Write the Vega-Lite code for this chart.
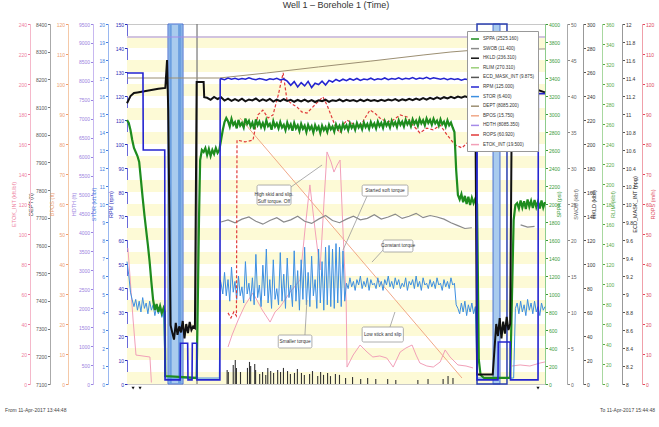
{
"$schema":"https://vega.github.io/schema/vega-lite/v6.json",
"width":418,"height":360,
"autosize":{"type":"none"},
"padding":{"left":127,"top":24,"right":114,"bottom":43},
"background":"white",
"title":{"text":"Well 1 – Borehole 1 (Time)","fontSize":9,"fontWeight":"normal","color":"#333","offset":12,"font":"Liberation Sans"},
"config":{"font":"Liberation Sans","view":{"stroke":"#c8c8c8"},
 "axis":{"labelFontSize":5,"titleFontSize":5.5,"titleFontWeight":"normal","tickSize":2.5,"labelPadding":1,"titlePadding":2,"grid":false,"labelFont":"Liberation Sans","titleFont":"Liberation Sans"}},
"data":{"format":{"parse":{"t":"date:'%H:%M:%S'","t2":"date:'%H:%M:%S'"}},"values":[
{"s":"stripe","v":0,"v2":5},{"s":"stripe","v":10,"v2":15},{"s":"stripe","v":20,"v2":25},{"s":"stripe","v":30,"v2":35},{"s":"stripe","v":40,"v2":45},{"s":"stripe","v":50,"v2":55},{"s":"stripe","v":60,"v2":65},{"s":"stripe","v":70,"v2":75},{"s":"stripe","v":80,"v2":85},{"s":"stripe","v":90,"v2":95},{"s":"stripe","v":100,"v2":105},{"s":"stripe","v":110,"v2":115},{"s":"stripe","v":120,"v2":125},{"s":"stripe","v":130,"v2":135},{"s":"stripe","v":140,"v2":145},
{"s":"band","t":"13:56:46","t2":"14:01:05"},{"s":"band","t":"15:30:05","t2":"15:32:05"},
{"s":"band2","t":"13:57:10","t2":"13:57:50"},{"s":"band2","t":"13:59:40","t2":"14:00:40"},
{"s":"slip","t":"15:25:29","t2":"15:34:05"},
{"s":"vline","t":"14:05:06"},
{"s":"hdth","t":"13:45:00","v":9157},{"s":"hdth","t":"15:45:00","v":9157},
{"s":"dept","t":"13:45:00","v":8205},{"s":"dept","t":"14:11:30","v":8205},{"s":"dept","t":"14:25:00","v":8223},{"s":"dept","t":"14:40:00","v":8245},{"s":"dept","t":"14:55:00","v":8266},{"s":"dept","t":"15:10:00","v":8288},{"s":"dept","t":"15:18:00","v":8299},{"s":"dept","t":"15:25:00","v":8306},{"s":"dept","t":"15:45:00","v":8310},
{"s":"bpos","t":"14:17:25","v":88.7},{"s":"bpos","t":"15:21:10","v":2},
{"s":"etok","g":"a","t":"13:45:15","v":90.7},{"s":"etok","g":"a","t":"13:45:50","v":72.7},{"s":"etok","g":"a","t":"13:46:45","v":42.7},{"s":"etok","g":"a","t":"13:47:35","v":19.3},{"s":"etok","g":"a","t":"13:51:35","v":18},{"s":"etok","g":"a","t":"13:52:00","v":1},
{"s":"etok","g":"b","t":"14:14:00","v":24.7},{"s":"etok","g":"b","t":"14:15:10","v":32.7},{"s":"etok","g":"b","t":"14:16:55","v":42.7},{"s":"etok","g":"b","t":"14:18:55","v":52.7},{"s":"etok","g":"b","t":"14:21:10","v":60.7},{"s":"etok","g":"b","t":"14:23:50","v":49.3},{"s":"etok","g":"b","t":"14:26:05","v":41.3},{"s":"etok","g":"b","t":"14:27:30","v":48},{"s":"etok","g":"b","t":"14:28:55","v":51.3},{"s":"etok","g":"b","t":"14:31:50","v":61.3},{"s":"etok","g":"b","t":"14:34:40","v":69.3},{"s":"etok","g":"b","t":"14:36:05","v":102.7},{"s":"etok","g":"b","t":"14:37:30","v":132.7},{"s":"etok","g":"b","t":"14:39:00","v":102.7},{"s":"etok","g":"b","t":"14:40:25","v":76},{"s":"etok","g":"b","t":"14:41:35","v":122.7},{"s":"etok","g":"b","t":"14:42:25","v":154.7},{"s":"etok","g":"b","t":"14:43:35","v":148},{"s":"etok","g":"b","t":"14:44:25","v":141.3},{"s":"etok","g":"b","t":"14:45:20","v":146},{"s":"etok","g":"b","t":"14:46:10","v":149.3},{"s":"etok","g":"b","t":"14:47:00","v":102.7},{"s":"etok","g":"b","t":"14:47:55","v":56},{"s":"etok","g":"b","t":"14:48:10","v":11.3},{"s":"etok","g":"b","t":"14:49:55","v":19.3},{"s":"etok","g":"b","t":"14:51:55","v":26},{"s":"etok","g":"b","t":"14:53:55","v":21.3},{"s":"etok","g":"b","t":"14:55:35","v":18},{"s":"etok","g":"b","t":"14:57:35","v":18.7},{"s":"etok","g":"b","t":"14:59:35","v":17.3},{"s":"etok","g":"b","t":"15:01:25","v":11.3},{"s":"etok","g":"b","t":"15:03:25","v":21.3},{"s":"etok","g":"b","t":"15:05:05","v":24},{"s":"etok","g":"b","t":"15:06:50","v":26},{"s":"etok","g":"b","t":"15:08:00","v":19.3},{"s":"etok","g":"b","t":"15:09:05","v":14},{"s":"etok","g":"b","t":"15:11:05","v":12},{"s":"etok","g":"b","t":"15:12:55","v":11.3},{"s":"etok","g":"b","t":"15:14:55","v":14.7},{"s":"etok","g":"b","t":"15:16:20","v":22.7},{"s":"etok","g":"b","t":"15:17:45","v":18},{"s":"etok","g":"b","t":"15:20:00","v":12.7},{"s":"etok","g":"b","t":"15:22:20","v":12},{"s":"etok","g":"b","t":"15:24:20","v":10.7},
{"s":"etok","g":"c","t":"15:35:30","v":12},{"s":"etok","g":"c","t":"15:37:50","v":12.7},{"s":"etok","g":"c","t":"15:40:40","v":12},{"s":"etok","g":"c","t":"15:43:35","v":14},{"s":"etok","g":"c","t":"15:45:00","v":14.7},
{"s":"swob","g":"a","t":"14:12:00","v":22.5},{"s":"swob","g":"a","t":"14:14:00","v":22.8},{"s":"swob","g":"a","t":"14:16:00","v":22.4},{"s":"swob","g":"a","t":"14:18:00","v":22.9},{"s":"swob","g":"a","t":"14:20:00","v":23.2},{"s":"swob","g":"a","t":"14:22:00","v":22.6},{"s":"swob","g":"a","t":"14:24:00","v":22.2},{"s":"swob","g":"a","t":"14:26:00","v":22.7},{"s":"swob","g":"a","t":"14:28:00","v":23.1},{"s":"swob","g":"a","t":"14:30:00","v":22.5},{"s":"swob","g":"a","t":"14:32:00","v":22.8},{"s":"swob","g":"a","t":"14:34:00","v":23.3},{"s":"swob","g":"a","t":"14:36:00","v":22.6},{"s":"swob","g":"a","t":"14:38:00","v":22.3},{"s":"swob","g":"a","t":"14:40:00","v":22.9},{"s":"swob","g":"a","t":"14:42:00","v":23.4},{"s":"swob","g":"a","t":"14:44:00","v":22.7},{"s":"swob","g":"a","t":"14:46:00","v":22.4},{"s":"swob","g":"a","t":"14:48:00","v":22.9},{"s":"swob","g":"a","t":"14:50:00","v":23.3},{"s":"swob","g":"a","t":"14:52:00","v":22.8},{"s":"swob","g":"a","t":"14:54:00","v":23.0},{"s":"swob","g":"a","t":"14:56:00","v":23.5},{"s":"swob","g":"a","t":"14:58:00","v":22.9},{"s":"swob","g":"a","t":"15:00:00","v":23.2},{"s":"swob","g":"a","t":"15:02:00","v":23.6},{"s":"swob","g":"a","t":"15:04:00","v":23.0},{"s":"swob","g":"a","t":"15:06:00","v":23.3},{"s":"swob","g":"a","t":"15:08:00","v":23.7},{"s":"swob","g":"a","t":"15:10:00","v":23.1},{"s":"swob","g":"a","t":"15:12:00","v":23.4},{"s":"swob","g":"a","t":"15:14:00","v":23.2},{"s":"swob","g":"a","t":"15:16:00","v":22.9},{"s":"swob","g":"a","t":"15:18:00","v":22.4},{"s":"swob","g":"a","t":"15:20:00","v":22.0},{"s":"swob","g":"a","t":"15:22:00","v":21.6},{"s":"swob","g":"a","t":"15:24:00","v":21.7},
{"s":"swob","g":"b","t":"15:38:00","v":22.1},{"s":"swob","g":"b","t":"15:40:00","v":21.8},{"s":"swob","g":"b","t":"15:42:00","v":21.9},
{"s":"trq","t":"13:45:00","v":6.8},{"s":"trq","t":"13:45:30","v":6.06},{"s":"trq","t":"13:46:00","v":5.1},{"s":"trq","t":"13:46:30","v":4.67},
{"s":"trq","t":"13:47:00","v":4.3},{"s":"trq","t":"13:47:30","v":4.7},{"s":"trq","t":"13:48:00","v":4.1},{"s":"trq","t":"13:48:30","v":4.6},{"s":"trq","t":"13:49:00","v":4.0},{"s":"trq","t":"13:49:30","v":4.8},{"s":"trq","t":"13:50:00","v":4.2},{"s":"trq","t":"13:50:30","v":4.5},{"s":"trq","t":"13:51:00","v":3.9},{"s":"trq","t":"13:51:30","v":4.6},{"s":"trq","t":"13:52:00","v":4.1},{"s":"trq","t":"13:52:30","v":4.4},{"s":"trq","t":"13:53:00","v":3.8},{"s":"trq","t":"13:53:30","v":4.3},{"s":"trq","t":"13:54:00","v":3.9},{"s":"trq","t":"13:54:30","v":4.2},{"s":"trq","t":"13:55:00","v":3.7},{"s":"trq","t":"13:55:30","v":4.0},
{"s":"trq","t":"13:56:00","v":0.33},{"s":"trq","t":"14:11:30","v":0.33},{"s":"trq","t":"14:11:45","v":5.78},
{"s":"trq","t":"14:12:00","v":5.6},{"s":"trq","t":"14:12:30","v":5.0},{"s":"trq","t":"14:13:00","v":6.2},{"s":"trq","t":"14:13:30","v":4.9},{"s":"trq","t":"14:14:00","v":5.8},{"s":"trq","t":"14:14:30","v":4.6},{"s":"trq","t":"14:15:00","v":6.5},{"s":"trq","t":"14:15:30","v":5.1},{"s":"trq","t":"14:16:00","v":5.7},{"s":"trq","t":"14:16:30","v":4.7},
{"s":"trq","t":"14:17:00","v":6.0},{"s":"trq","t":"14:17:30","v":4.9},{"s":"trq","t":"14:18:00","v":5.4},{"s":"trq","t":"14:18:30","v":4.5},{"s":"trq","t":"14:19:00","v":6.8},{"s":"trq","t":"14:19:30","v":5.0},{"s":"trq","t":"14:20:00","v":5.6},{"s":"trq","t":"14:20:30","v":4.6},{"s":"trq","t":"14:21:00","v":5.9},{"s":"trq","t":"14:21:30","v":4.4},
{"s":"trq","t":"14:22:00","v":7.2},{"s":"trq","t":"14:22:30","v":4.8},{"s":"trq","t":"14:23:00","v":5.5},{"s":"trq","t":"14:23:30","v":4.3},{"s":"trq","t":"14:24:00","v":6.6},{"s":"trq","t":"14:24:30","v":4.9},{"s":"trq","t":"14:25:00","v":7.5},{"s":"trq","t":"14:25:30","v":4.5},{"s":"trq","t":"14:26:00","v":5.8},{"s":"trq","t":"14:26:30","v":4.2},
{"s":"trq","t":"14:27:00","v":6.9},{"s":"trq","t":"14:27:30","v":4.7},{"s":"trq","t":"14:28:00","v":5.3},{"s":"trq","t":"14:28:30","v":4.4},{"s":"trq","t":"14:29:00","v":7.3},{"s":"trq","t":"14:29:30","v":4.6},{"s":"trq","t":"14:30:00","v":6.1},{"s":"trq","t":"14:30:30","v":4.2},{"s":"trq","t":"14:31:00","v":7.0},{"s":"trq","t":"14:31:30","v":4.8},
{"s":"trq","t":"14:32:00","v":5.5},{"s":"trq","t":"14:32:30","v":4.3},{"s":"trq","t":"14:33:00","v":7.4},{"s":"trq","t":"14:33:30","v":4.6},{"s":"trq","t":"14:34:00","v":6.3},{"s":"trq","t":"14:34:30","v":4.1},{"s":"trq","t":"14:35:00","v":6.9},{"s":"trq","t":"14:35:30","v":4.7},{"s":"trq","t":"14:36:00","v":7.6},{"s":"trq","t":"14:36:30","v":4.4},
{"s":"trq","t":"14:37:00","v":6.2},{"s":"trq","t":"14:37:30","v":4.3},{"s":"trq","t":"14:38:00","v":7.1},{"s":"trq","t":"14:38:30","v":4.9},{"s":"trq","t":"14:39:00","v":5.8},{"s":"trq","t":"14:39:30","v":4.2},{"s":"trq","t":"14:40:00","v":7.5},{"s":"trq","t":"14:40:30","v":4.5},{"s":"trq","t":"14:41:00","v":6.8},{"s":"trq","t":"14:41:30","v":4.1},
{"s":"trq","t":"14:42:00","v":7.6},{"s":"trq","t":"14:42:30","v":4.4},{"s":"trq","t":"14:43:00","v":7.7},{"s":"trq","t":"14:43:30","v":4.3},{"s":"trq","t":"14:44:00","v":7.5},{"s":"trq","t":"14:44:30","v":4.2},{"s":"trq","t":"14:45:00","v":7.8},{"s":"trq","t":"14:45:30","v":4.5},{"s":"trq","t":"14:46:00","v":7.6},{"s":"trq","t":"14:46:30","v":4.3},{"s":"trq","t":"14:47:00","v":7.4},{"s":"trq","t":"14:47:30","v":4.6},
{"s":"trq","t":"14:48:00","v":5.6},{"s":"trq","t":"14:48:30","v":5.3},{"s":"trq","t":"14:49:00","v":5.9},{"s":"trq","t":"14:49:30","v":5.4},{"s":"trq","t":"14:50:00","v":5.7},{"s":"trq","t":"14:50:30","v":5.2},{"s":"trq","t":"14:51:00","v":5.8},{"s":"trq","t":"14:51:30","v":5.5},{"s":"trq","t":"14:52:00","v":6.0},{"s":"trq","t":"14:52:30","v":5.3},
{"s":"trq","t":"14:53:00","v":5.7},{"s":"trq","t":"14:53:30","v":5.4},{"s":"trq","t":"14:54:00","v":5.9},{"s":"trq","t":"14:54:30","v":5.2},{"s":"trq","t":"14:55:00","v":5.8},{"s":"trq","t":"14:55:30","v":5.5},{"s":"trq","t":"14:56:00","v":5.6},{"s":"trq","t":"14:56:30","v":5.3},{"s":"trq","t":"14:57:00","v":5.9},{"s":"trq","t":"14:57:30","v":5.4},
{"s":"trq","t":"14:58:00","v":5.7},{"s":"trq","t":"14:58:30","v":5.2},{"s":"trq","t":"14:59:00","v":5.8},{"s":"trq","t":"14:59:30","v":5.5},{"s":"trq","t":"15:00:00","v":6.0},{"s":"trq","t":"15:00:30","v":5.4},{"s":"trq","t":"15:01:00","v":5.7},{"s":"trq","t":"15:01:30","v":5.3},{"s":"trq","t":"15:02:00","v":5.9},{"s":"trq","t":"15:02:30","v":5.5},
{"s":"trq","t":"15:03:00","v":5.8},{"s":"trq","t":"15:03:30","v":5.3},{"s":"trq","t":"15:04:00","v":5.6},{"s":"trq","t":"15:04:30","v":5.4},{"s":"trq","t":"15:05:00","v":5.9},{"s":"trq","t":"15:05:30","v":5.2},{"s":"trq","t":"15:06:00","v":5.7},{"s":"trq","t":"15:06:30","v":5.5},{"s":"trq","t":"15:07:00","v":5.8},{"s":"trq","t":"15:07:30","v":5.3},
{"s":"trq","t":"15:08:00","v":6.0},{"s":"trq","t":"15:08:30","v":5.4},{"s":"trq","t":"15:09:00","v":5.7},{"s":"trq","t":"15:09:30","v":5.2},{"s":"trq","t":"15:10:00","v":5.9},{"s":"trq","t":"15:10:30","v":5.5},{"s":"trq","t":"15:11:00","v":5.6},{"s":"trq","t":"15:11:30","v":5.3},{"s":"trq","t":"15:12:00","v":5.8},{"s":"trq","t":"15:12:30","v":5.4},
{"s":"trq","t":"15:13:00","v":5.7},{"s":"trq","t":"15:13:30","v":5.3},{"s":"trq","t":"15:14:00","v":5.9},{"s":"trq","t":"15:14:30","v":5.5},{"s":"trq","t":"15:15:00","v":5.6},{"s":"trq","t":"15:15:30","v":5.2},{"s":"trq","t":"15:16:00","v":5.8},{"s":"trq","t":"15:16:30","v":5.4},{"s":"trq","t":"15:17:00","v":5.7},{"s":"trq","t":"15:17:30","v":5.3},
{"s":"trq","t":"15:18:00","v":5.9},{"s":"trq","t":"15:18:30","v":5.5},{"s":"trq","t":"15:19:00","v":5.6},
{"s":"trq","t":"15:19:30","v":4.4},{"s":"trq","t":"15:20:00","v":4.2},{"s":"trq","t":"15:20:30","v":3.9},{"s":"trq","t":"15:21:00","v":4.5},{"s":"trq","t":"15:21:30","v":4.0},{"s":"trq","t":"15:22:00","v":4.6},{"s":"trq","t":"15:22:30","v":3.8},{"s":"trq","t":"15:23:00","v":4.4},{"s":"trq","t":"15:23:30","v":4.0},{"s":"trq","t":"15:24:00","v":4.5},{"s":"trq","t":"15:24:30","v":3.9},{"s":"trq","t":"15:25:00","v":4.3},
{"s":"trq","t":"15:25:30","v":0.33},{"s":"trq","t":"15:36:00","v":0.33},{"s":"trq","t":"15:36:30","v":4.2},
{"s":"trq","t":"15:37:00","v":4.5},{"s":"trq","t":"15:37:30","v":3.9},{"s":"trq","t":"15:38:00","v":4.6},{"s":"trq","t":"15:38:30","v":4.0},{"s":"trq","t":"15:39:00","v":4.4},{"s":"trq","t":"15:39:30","v":3.8},{"s":"trq","t":"15:40:00","v":4.7},{"s":"trq","t":"15:40:30","v":4.1},{"s":"trq","t":"15:41:00","v":4.5},{"s":"trq","t":"15:41:30","v":3.9},{"s":"trq","t":"15:42:00","v":4.6},{"s":"trq","t":"15:42:30","v":4.0},{"s":"trq","t":"15:43:00","v":4.3},{"s":"trq","t":"15:43:30","v":3.8},{"s":"trq","t":"15:44:00","v":4.5},{"s":"trq","t":"15:44:30","v":4.1},{"s":"trq","t":"15:45:00","v":4.3},
{"s":"rops","t":"14:14:00","v":23.7},{"s":"rops","t":"14:14:50","v":22},{"s":"rops","t":"14:15:40","v":24},{"s":"rops","t":"14:16:25","v":22.7},{"s":"rops","t":"14:16:35","v":81.3},{"s":"rops","t":"14:18:55","v":80.7},{"s":"rops","t":"14:21:10","v":81.3},{"s":"rops","t":"14:22:35","v":89.7},{"s":"rops","t":"14:24:00","v":91.3},{"s":"rops","t":"14:25:30","v":88.7},{"s":"rops","t":"14:26:55","v":89.7},{"s":"rops","t":"14:28:25","v":96.3},{"s":"rops","t":"14:29:50","v":103.7},{"s":"rops","t":"14:30:55","v":94.7},{"s":"rops","t":"14:32:25","v":93.3},{"s":"rops","t":"14:33:50","v":92.3},{"s":"rops","t":"14:35:10","v":90.7},{"s":"rops","t":"14:36:40","v":90.3},{"s":"rops","t":"14:38:05","v":92},{"s":"rops","t":"14:39:30","v":93.7},{"s":"rops","t":"14:41:15","v":95.7},{"s":"rops","t":"14:42:25","v":93},{"s":"rops","t":"14:43:20","v":90.3},{"s":"rops","t":"14:44:40","v":86.3},{"s":"rops","t":"14:46:10","v":83.7},{"s":"rops","t":"14:47:00","v":86.3},{"s":"rops","t":"14:48:10","v":88},{"s":"rops","t":"14:49:55","v":86.7},{"s":"rops","t":"14:51:55","v":85.7},{"s":"rops","t":"14:53:20","v":88.7},{"s":"rops","t":"14:54:45","v":91.3},{"s":"rops","t":"14:56:10","v":90.3},{"s":"rops","t":"14:57:35","v":88.7},{"s":"rops","t":"14:59:35","v":87.3},{"s":"rops","t":"15:01:25","v":88},{"s":"rops","t":"15:03:25","v":89.7},{"s":"rops","t":"15:05:25","v":89},{"s":"rops","t":"15:07:05","v":86.3},{"s":"rops","t":"15:09:05","v":83.7},{"s":"rops","t":"15:11:05","v":85.3},{"s":"rops","t":"15:12:55","v":84.7},{"s":"rops","t":"15:14:55","v":86.3},{"s":"rops","t":"15:16:55","v":83},{"s":"rops","t":"15:19:10","v":79.7},{"s":"rops","t":"15:21:10","v":78.7},{"s":"rops","t":"15:23:30","v":81.3},
{"s":"sppa","t":"13:45:00","v":2933},{"s":"sppa","t":"13:45:30","v":2900},{"s":"sppa","t":"13:46:00","v":2822},{"s":"sppa","t":"13:46:30","v":2711},{"s":"sppa","t":"13:47:00","v":2622},{"s":"sppa","t":"13:47:30","v":2578},{"s":"sppa","t":"13:48:00","v":2533},{"s":"sppa","t":"13:48:30","v":2467},{"s":"sppa","t":"13:49:00","v":2267},{"s":"sppa","t":"13:49:30","v":2067},{"s":"sppa","t":"13:50:00","v":1878},{"s":"sppa","t":"13:50:30","v":1711},{"s":"sppa","t":"13:51:00","v":1544},{"s":"sppa","t":"13:51:30","v":1356},{"s":"sppa","t":"13:52:00","v":1133},{"s":"sppa","t":"13:52:30","v":933},{"s":"sppa","t":"13:53:00","v":822},{"s":"sppa","t":"13:53:30","v":889},{"s":"sppa","t":"13:54:00","v":800},{"s":"sppa","t":"13:54:30","v":867},{"s":"sppa","t":"13:55:00","v":789},{"s":"sppa","t":"13:55:30","v":844},{"s":"sppa","t":"13:55:50","v":800},{"s":"sppa","t":"13:56:00","v":89},{"s":"sppa","t":"14:05:00","v":67},{"s":"sppa","t":"14:05:20","v":933},{"s":"sppa","t":"14:05:40","v":1822},{"s":"sppa","t":"14:06:00","v":2489},{"s":"sppa","t":"14:06:30","v":2600},
{"s":"sppa","t":"14:07:00","v":2578},{"s":"sppa","t":"14:07:30","v":2622},{"s":"sppa","t":"14:08:00","v":2544},{"s":"sppa","t":"14:08:30","v":2611},{"s":"sppa","t":"14:09:00","v":2533},{"s":"sppa","t":"14:09:30","v":2600},{"s":"sppa","t":"14:10:00","v":2556},{"s":"sppa","t":"14:10:30","v":2622},{"s":"sppa","t":"14:11:00","v":2567},{"s":"sppa","t":"14:11:30","v":2600},{"s":"sppa","t":"14:12:00","v":2711},{"s":"sppa","t":"14:12:30","v":2822},{"s":"sppa","t":"14:13:00","v":2911},{"s":"sppa","t":"14:13:30","v":2955},
{"s":"sppa","t":"14:14:00","v":2920},{"s":"sppa","t":"14:14:30","v":2860},{"s":"sppa","t":"14:15:00","v":2945},{"s":"sppa","t":"14:15:30","v":2880},{"s":"sppa","t":"14:16:00","v":2910},{"s":"sppa","t":"14:16:30","v":2840},{"s":"sppa","t":"14:17:00","v":2935},{"s":"sppa","t":"14:17:30","v":2870},{"s":"sppa","t":"14:18:00","v":2900},{"s":"sppa","t":"14:18:30","v":2850},
{"s":"sppa","t":"14:19:00","v":2950},{"s":"sppa","t":"14:19:30","v":2890},{"s":"sppa","t":"14:20:00","v":2925},{"s":"sppa","t":"14:20:30","v":2860},{"s":"sppa","t":"14:21:00","v":2905},{"s":"sppa","t":"14:21:30","v":2830},{"s":"sppa","t":"14:22:00","v":2940},{"s":"sppa","t":"14:22:30","v":2875},{"s":"sppa","t":"14:23:00","v":2915},{"s":"sppa","t":"14:23:30","v":2855},
{"s":"sppa","t":"14:24:00","v":2900},{"s":"sppa","t":"14:24:30","v":2845},{"s":"sppa","t":"14:25:00","v":2930},{"s":"sppa","t":"14:25:30","v":2865},{"s":"sppa","t":"14:26:00","v":2890},{"s":"sppa","t":"14:26:30","v":2825},{"s":"sppa","t":"14:27:00","v":2920},{"s":"sppa","t":"14:27:30","v":2860},{"s":"sppa","t":"14:28:00","v":2895},{"s":"sppa","t":"14:28:30","v":2840},
{"s":"sppa","t":"14:29:00","v":2910},{"s":"sppa","t":"14:29:30","v":2850},{"s":"sppa","t":"14:30:00","v":2880},{"s":"sppa","t":"14:30:30","v":2820},{"s":"sppa","t":"14:31:00","v":2905},{"s":"sppa","t":"14:31:30","v":2845},{"s":"sppa","t":"14:32:00","v":2885},{"s":"sppa","t":"14:32:30","v":2815},{"s":"sppa","t":"14:33:00","v":2900},{"s":"sppa","t":"14:33:30","v":2840},
{"s":"sppa","t":"14:34:00","v":2875},{"s":"sppa","t":"14:34:30","v":2810},{"s":"sppa","t":"14:35:00","v":2890},{"s":"sppa","t":"14:35:30","v":2835},{"s":"sppa","t":"14:36:00","v":2870},{"s":"sppa","t":"14:36:30","v":2800},{"s":"sppa","t":"14:37:00","v":2880},{"s":"sppa","t":"14:37:30","v":2830},{"s":"sppa","t":"14:38:00","v":2865},{"s":"sppa","t":"14:38:30","v":2795},
{"s":"sppa","t":"14:39:00","v":2875},{"s":"sppa","t":"14:39:30","v":2825},{"s":"sppa","t":"14:40:00","v":2860},{"s":"sppa","t":"14:40:30","v":2790},{"s":"sppa","t":"14:41:00","v":2870},{"s":"sppa","t":"14:41:30","v":2820},{"s":"sppa","t":"14:42:00","v":2855},{"s":"sppa","t":"14:42:30","v":2800},{"s":"sppa","t":"14:43:00","v":2880},{"s":"sppa","t":"14:43:30","v":2830},
{"s":"sppa","t":"14:44:00","v":2860},{"s":"sppa","t":"14:44:30","v":2805},{"s":"sppa","t":"14:45:00","v":2885},{"s":"sppa","t":"14:45:30","v":2835},{"s":"sppa","t":"14:46:00","v":2870},{"s":"sppa","t":"14:46:30","v":2815},{"s":"sppa","t":"14:47:00","v":2890},{"s":"sppa","t":"14:47:30","v":2840},{"s":"sppa","t":"14:48:00","v":2875},{"s":"sppa","t":"14:48:30","v":2820},
{"s":"sppa","t":"14:49:00","v":2895},{"s":"sppa","t":"14:49:30","v":2845},{"s":"sppa","t":"14:50:00","v":2880},{"s":"sppa","t":"14:50:30","v":2825},{"s":"sppa","t":"14:51:00","v":2900},{"s":"sppa","t":"14:51:30","v":2850},{"s":"sppa","t":"14:52:00","v":2885},{"s":"sppa","t":"14:52:30","v":2830},{"s":"sppa","t":"14:53:00","v":2905},{"s":"sppa","t":"14:53:30","v":2855},
{"s":"sppa","t":"14:54:00","v":2890},{"s":"sppa","t":"14:54:30","v":2835},{"s":"sppa","t":"14:55:00","v":2910},{"s":"sppa","t":"14:55:30","v":2860},{"s":"sppa","t":"14:56:00","v":2895},{"s":"sppa","t":"14:56:30","v":2840},{"s":"sppa","t":"14:57:00","v":2915},{"s":"sppa","t":"14:57:30","v":2865},{"s":"sppa","t":"14:58:00","v":2900},{"s":"sppa","t":"14:58:30","v":2845},
{"s":"sppa","t":"14:59:00","v":2920},{"s":"sppa","t":"14:59:30","v":2870},{"s":"sppa","t":"15:00:00","v":2905},{"s":"sppa","t":"15:00:30","v":2850},{"s":"sppa","t":"15:01:00","v":2925},{"s":"sppa","t":"15:01:30","v":2875},{"s":"sppa","t":"15:02:00","v":2910},{"s":"sppa","t":"15:02:30","v":2855},{"s":"sppa","t":"15:03:00","v":2930},{"s":"sppa","t":"15:03:30","v":2880},
{"s":"sppa","t":"15:04:00","v":2915},{"s":"sppa","t":"15:04:30","v":2860},{"s":"sppa","t":"15:05:00","v":2935},{"s":"sppa","t":"15:05:30","v":2885},{"s":"sppa","t":"15:06:00","v":2920},{"s":"sppa","t":"15:06:30","v":2865},{"s":"sppa","t":"15:07:00","v":2940},{"s":"sppa","t":"15:07:30","v":2890},{"s":"sppa","t":"15:08:00","v":2925},{"s":"sppa","t":"15:08:30","v":2870},
{"s":"sppa","t":"15:09:00","v":2945},{"s":"sppa","t":"15:09:30","v":2895},{"s":"sppa","t":"15:10:00","v":2930},{"s":"sppa","t":"15:10:30","v":2875},{"s":"sppa","t":"15:11:00","v":2950},{"s":"sppa","t":"15:11:30","v":2900},{"s":"sppa","t":"15:12:00","v":2935},{"s":"sppa","t":"15:12:30","v":2880},{"s":"sppa","t":"15:13:00","v":2945},{"s":"sppa","t":"15:13:30","v":2895},
{"s":"sppa","t":"15:14:00","v":2925},{"s":"sppa","t":"15:14:30","v":2870},{"s":"sppa","t":"15:15:00","v":2940},{"s":"sppa","t":"15:15:30","v":2885},{"s":"sppa","t":"15:16:00","v":2915},{"s":"sppa","t":"15:16:30","v":2860},{"s":"sppa","t":"15:17:00","v":2930},{"s":"sppa","t":"15:17:30","v":2875},{"s":"sppa","t":"15:18:00","v":2905},{"s":"sppa","t":"15:18:30","v":2850},
{"s":"sppa","t":"15:19:00","v":2800},{"s":"sppa","t":"15:19:30","v":2378},{"s":"sppa","t":"15:20:00","v":2100},{"s":"sppa","t":"15:20:30","v":2050},{"s":"sppa","t":"15:21:00","v":2110},{"s":"sppa","t":"15:21:30","v":2020},{"s":"sppa","t":"15:22:00","v":2090},{"s":"sppa","t":"15:22:30","v":2000},{"s":"sppa","t":"15:23:00","v":2080},{"s":"sppa","t":"15:23:30","v":1990},{"s":"sppa","t":"15:24:00","v":2070},{"s":"sppa","t":"15:24:30","v":2010},{"s":"sppa","t":"15:25:00","v":2060},{"s":"sppa","t":"15:25:30","v":2000},{"s":"sppa","t":"15:26:00","v":267},{"s":"sppa","t":"15:26:30","v":100},{"s":"sppa","t":"15:27:30","v":67},{"s":"sppa","t":"15:35:00","v":67},{"s":"sppa","t":"15:35:30","v":933},{"s":"sppa","t":"15:36:00","v":1822},{"s":"sppa","t":"15:36:30","v":1989},
{"s":"sppa","t":"15:37:00","v":2010},{"s":"sppa","t":"15:37:30","v":1950},{"s":"sppa","t":"15:38:00","v":2040},{"s":"sppa","t":"15:38:30","v":1960},{"s":"sppa","t":"15:39:00","v":2030},{"s":"sppa","t":"15:39:30","v":1945},{"s":"sppa","t":"15:40:00","v":2050},{"s":"sppa","t":"15:40:30","v":1970},{"s":"sppa","t":"15:41:00","v":2035},{"s":"sppa","t":"15:41:30","v":1955},{"s":"sppa","t":"15:42:00","v":2045},{"s":"sppa","t":"15:42:30","v":1965},{"s":"sppa","t":"15:43:00","v":2025},{"s":"sppa","t":"15:43:30","v":1950},{"s":"sppa","t":"15:44:00","v":2040},{"s":"sppa","t":"15:44:30","v":1960},{"s":"sppa","t":"15:45:00","v":2020},
{"s":"hkld","t":"13:45:00","v":234},{"s":"hkld","t":"13:46:00","v":240},{"s":"hkld","t":"13:47:00","v":242.5},{"s":"hkld","t":"13:48:00","v":243},{"s":"hkld","t":"13:50:00","v":244},{"s":"hkld","t":"13:52:00","v":245},{"s":"hkld","t":"13:54:00","v":246},{"s":"hkld","t":"13:56:00","v":246.7},{"s":"hkld","t":"13:56:30","v":270},{"s":"hkld","t":"13:56:50","v":228},{"s":"hkld","t":"13:57:30","v":49},{"s":"hkld","t":"13:58:00","v":43},{"s":"hkld","t":"13:58:30","v":37},{"s":"hkld","t":"13:59:00","v":51},{"s":"hkld","t":"13:59:30","v":41},{"s":"hkld","t":"14:00:00","v":48},{"s":"hkld","t":"14:00:30","v":43},{"s":"hkld","t":"14:01:00","v":52.5},{"s":"hkld","t":"14:01:30","v":38},{"s":"hkld","t":"14:02:00","v":50},{"s":"hkld","t":"14:02:30","v":42.5},{"s":"hkld","t":"14:03:00","v":51.7},{"s":"hkld","t":"14:03:30","v":45},{"s":"hkld","t":"14:04:00","v":48},{"s":"hkld","t":"14:04:30","v":46.7},{"s":"hkld","t":"14:05:00","v":251.7},{"s":"hkld","t":"14:07:00","v":251.7},{"s":"hkld","t":"14:07:10","v":239},
{"s":"hkld","t":"14:08:00","v":238.5},{"s":"hkld","t":"14:09:00","v":236.8},{"s":"hkld","t":"14:10:00","v":239.2},{"s":"hkld","t":"14:11:00","v":237.5},{"s":"hkld","t":"14:12:00","v":238.9},{"s":"hkld","t":"14:13:00","v":236.2},{"s":"hkld","t":"14:14:00","v":237.8},{"s":"hkld","t":"14:15:00","v":235.9},{"s":"hkld","t":"14:16:00","v":237.4},{"s":"hkld","t":"14:17:00","v":236.0},{"s":"hkld","t":"14:18:00","v":237.7},{"s":"hkld","t":"14:19:00","v":235.6},{"s":"hkld","t":"14:20:00","v":237.1},{"s":"hkld","t":"14:21:00","v":236.3},{"s":"hkld","t":"14:22:00","v":237.9},{"s":"hkld","t":"14:23:00","v":235.8},{"s":"hkld","t":"14:24:00","v":237.2},{"s":"hkld","t":"14:25:00","v":236.0},{"s":"hkld","t":"14:26:00","v":237.6},{"s":"hkld","t":"14:27:00","v":235.4},{"s":"hkld","t":"14:28:00","v":236.9},{"s":"hkld","t":"14:29:00","v":235.7},{"s":"hkld","t":"14:30:00","v":237.3},{"s":"hkld","t":"14:31:00","v":235.9},{"s":"hkld","t":"14:32:00","v":236.8},{"s":"hkld","t":"14:33:00","v":235.2},{"s":"hkld","t":"14:34:00","v":236.7},{"s":"hkld","t":"14:35:00","v":235.5},{"s":"hkld","t":"14:36:00","v":237.0},{"s":"hkld","t":"14:37:00","v":235.3},{"s":"hkld","t":"14:38:00","v":236.6},{"s":"hkld","t":"14:39:00","v":235.0},{"s":"hkld","t":"14:40:00","v":236.4},{"s":"hkld","t":"14:41:00","v":235.6},{"s":"hkld","t":"14:42:00","v":236.9},{"s":"hkld","t":"14:43:00","v":235.2},{"s":"hkld","t":"14:44:00","v":236.5},{"s":"hkld","t":"14:45:00","v":235.8},{"s":"hkld","t":"14:46:00","v":237.1},{"s":"hkld","t":"14:47:00","v":235.5},{"s":"hkld","t":"14:48:00","v":236.8},{"s":"hkld","t":"14:49:00","v":235.9},{"s":"hkld","t":"14:50:00","v":236.6},{"s":"hkld","t":"14:51:00","v":235.4},{"s":"hkld","t":"14:52:00","v":236.9},{"s":"hkld","t":"14:53:00","v":235.7},{"s":"hkld","t":"14:54:00","v":237.0},{"s":"hkld","t":"14:55:00","v":235.9},{"s":"hkld","t":"14:56:00","v":236.7},{"s":"hkld","t":"14:57:00","v":235.6},{"s":"hkld","t":"14:58:00","v":236.8},{"s":"hkld","t":"14:59:00","v":235.9},{"s":"hkld","t":"15:00:00","v":237.1},{"s":"hkld","t":"15:01:00","v":236.2},{"s":"hkld","t":"15:02:00","v":237.4},{"s":"hkld","t":"15:03:00","v":236.0},{"s":"hkld","t":"15:04:00","v":237.2},{"s":"hkld","t":"15:05:00","v":236.4},{"s":"hkld","t":"15:06:00","v":237.6},{"s":"hkld","t":"15:07:00","v":236.5},{"s":"hkld","t":"15:08:00","v":237.9},{"s":"hkld","t":"15:09:00","v":236.8},{"s":"hkld","t":"15:10:00","v":238.2},{"s":"hkld","t":"15:11:00","v":237.0},{"s":"hkld","t":"15:12:00","v":238.4},{"s":"hkld","t":"15:13:00","v":237.3},{"s":"hkld","t":"15:14:00","v":238.8},{"s":"hkld","t":"15:15:00","v":237.6},{"s":"hkld","t":"15:16:00","v":239.0},{"s":"hkld","t":"15:17:00","v":237.9},{"s":"hkld","t":"15:18:00","v":239.3},{"s":"hkld","t":"15:19:00","v":238.2},{"s":"hkld","t":"15:20:00","v":239.5},{"s":"hkld","t":"15:21:00","v":238.6},{"s":"hkld","t":"15:22:00","v":239.8},{"s":"hkld","t":"15:23:00","v":238.7},{"s":"hkld","t":"15:24:00","v":239.6},{"s":"hkld","t":"15:25:00","v":239.0},
{"s":"hkld","t":"15:25:30","v":8},{"s":"hkld","t":"15:30:00","v":8},{"s":"hkld","t":"15:31:00","v":50},{"s":"hkld","t":"15:31:30","v":40},{"s":"hkld","t":"15:32:00","v":55},{"s":"hkld","t":"15:32:30","v":38},{"s":"hkld","t":"15:33:00","v":52},{"s":"hkld","t":"15:33:30","v":42},{"s":"hkld","t":"15:34:00","v":56},{"s":"hkld","t":"15:34:30","v":45},{"s":"hkld","t":"15:35:00","v":50},{"s":"hkld","t":"15:35:30","v":243},{"s":"hkld","t":"15:37:00","v":242},{"s":"hkld","t":"15:39:00","v":244},{"s":"hkld","t":"15:41:00","v":243},{"s":"hkld","t":"15:43:00","v":245},{"s":"hkld","t":"15:45:00","v":243},
{"s":"rpm","t":"13:45:00","v":129.6},{"s":"rpm","t":"13:49:35","v":129.6},{"s":"rpm","t":"13:49:40","v":97.5},{"s":"rpm","t":"13:55:50","v":97.5},{"s":"rpm","t":"13:55:55","v":1.7},{"s":"rpm","t":"14:00:15","v":1.7},{"s":"rpm","t":"14:00:20","v":17},{"s":"rpm","t":"14:02:25","v":17},{"s":"rpm","t":"14:02:30","v":1.7},{"s":"rpm","t":"14:03:40","v":1.7},{"s":"rpm","t":"14:03:45","v":17},{"s":"rpm","t":"14:05:00","v":17},{"s":"rpm","t":"14:05:05","v":1.7},{"s":"rpm","t":"14:11:40","v":1.7},{"s":"rpm","t":"14:11:45","v":127},
{"s":"rpm","t":"14:12:00","v":127.2},{"s":"rpm","t":"14:13:00","v":126.8},{"s":"rpm","t":"14:14:00","v":127.5},{"s":"rpm","t":"14:15:00","v":127.0},{"s":"rpm","t":"14:16:00","v":127.4},{"s":"rpm","t":"14:17:00","v":126.9},{"s":"rpm","t":"14:18:00","v":127.3},{"s":"rpm","t":"14:19:00","v":127.0},{"s":"rpm","t":"14:20:00","v":127.6},{"s":"rpm","t":"14:21:00","v":127.1},{"s":"rpm","t":"14:22:00","v":126.8},{"s":"rpm","t":"14:23:00","v":127.3},{"s":"rpm","t":"14:24:00","v":127.0},{"s":"rpm","t":"14:25:00","v":126.6},{"s":"rpm","t":"14:26:00","v":127.2},{"s":"rpm","t":"14:27:00","v":126.9},{"s":"rpm","t":"14:28:00","v":127.4},{"s":"rpm","t":"14:29:00","v":126.7},{"s":"rpm","t":"14:30:00","v":127.1},{"s":"rpm","t":"14:31:00","v":126.2},{"s":"rpm","t":"14:32:00","v":124.5},{"s":"rpm","t":"14:33:00","v":126.0},{"s":"rpm","t":"14:34:00","v":123.8},{"s":"rpm","t":"14:35:00","v":125.6},{"s":"rpm","t":"14:36:00","v":124.2},{"s":"rpm","t":"14:37:00","v":126.1},{"s":"rpm","t":"14:38:00","v":123.5},{"s":"rpm","t":"14:39:00","v":125.3},{"s":"rpm","t":"14:40:00","v":124.8},{"s":"rpm","t":"14:41:00","v":126.2},{"s":"rpm","t":"14:42:00","v":124.6},{"s":"rpm","t":"14:43:00","v":126.5},{"s":"rpm","t":"14:44:00","v":125.8},{"s":"rpm","t":"14:45:00","v":126.9},{"s":"rpm","t":"14:46:00","v":126.2},{"s":"rpm","t":"14:47:00","v":127.0},{"s":"rpm","t":"14:48:00","v":126.4},{"s":"rpm","t":"14:49:00","v":127.2},{"s":"rpm","t":"14:50:00","v":126.6},{"s":"rpm","t":"14:51:00","v":127.3},{"s":"rpm","t":"14:52:00","v":126.5},{"s":"rpm","t":"14:53:00","v":127.1},{"s":"rpm","t":"14:54:00","v":126.8},{"s":"rpm","t":"14:55:00","v":127.4},{"s":"rpm","t":"14:56:00","v":126.7},{"s":"rpm","t":"14:57:00","v":127.2},{"s":"rpm","t":"14:58:00","v":126.9},{"s":"rpm","t":"14:59:00","v":127.5},{"s":"rpm","t":"15:00:00","v":126.8},{"s":"rpm","t":"15:01:00","v":127.3},{"s":"rpm","t":"15:02:00","v":127.0},{"s":"rpm","t":"15:03:00","v":127.6},{"s":"rpm","t":"15:04:00","v":126.9},{"s":"rpm","t":"15:05:00","v":127.4},{"s":"rpm","t":"15:06:00","v":127.1},{"s":"rpm","t":"15:07:00","v":127.7},{"s":"rpm","t":"15:08:00","v":127.0},{"s":"rpm","t":"15:09:00","v":127.5},{"s":"rpm","t":"15:10:00","v":127.2},{"s":"rpm","t":"15:11:00","v":127.8},{"s":"rpm","t":"15:12:00","v":127.1},{"s":"rpm","t":"15:13:00","v":127.6},{"s":"rpm","t":"15:14:00","v":127.3},{"s":"rpm","t":"15:15:00","v":127.0},{"s":"rpm","t":"15:16:00","v":127.4},{"s":"rpm","t":"15:17:00","v":126.8},{"s":"rpm","t":"15:18:00","v":127.3},{"s":"rpm","t":"15:19:00","v":126.9},{"s":"rpm","t":"15:20:00","v":127.2},{"s":"rpm","t":"15:21:00","v":126.6},{"s":"rpm","t":"15:22:00","v":127.1},{"s":"rpm","t":"15:23:00","v":126.8},{"s":"rpm","t":"15:24:00","v":127.0},{"s":"rpm","t":"15:25:00","v":126.9},
{"s":"rpm","t":"15:25:25","v":126.9},{"s":"rpm","t":"15:25:30","v":1.7},{"s":"rpm","t":"15:31:30","v":1.7},{"s":"rpm","t":"15:31:35","v":17.5},{"s":"rpm","t":"15:35:00","v":17.5},{"s":"rpm","t":"15:35:05","v":1.7},{"s":"rpm","t":"15:43:00","v":1.7},{"s":"rpm","t":"15:43:05","v":121},{"s":"rpm","t":"15:45:00","v":121},
{"s":"rlim","t":"15:45:00","v":270.31},{"s":"ecd","t":"15:45:00","v":9.875},
{"s":"bar","t":"14:13:45","v":5.8},{"s":"bar","t":"14:14:05","v":5},{"s":"bar","t":"14:15:30","v":7.9},{"s":"bar","t":"14:16:05","v":10},{"s":"bar","t":"14:16:25","v":6.7},{"s":"bar","t":"14:17:35","v":5},{"s":"bar","t":"14:19:35","v":6.7},{"s":"bar","t":"14:20:10","v":9.2},{"s":"bar","t":"14:20:30","v":7.5},{"s":"bar","t":"14:21:40","v":8.3},{"s":"bar","t":"14:21:55","v":5.8},{"s":"bar","t":"14:23:05","v":4.2},{"s":"bar","t":"14:23:55","v":5},{"s":"bar","t":"14:24:50","v":3.8},{"s":"bar","t":"14:25:25","v":6.7},{"s":"bar","t":"14:26:15","v":5.4},{"s":"bar","t":"14:27:05","v":4.6},{"s":"bar","t":"14:28:15","v":5.8},{"s":"bar","t":"14:29:05","v":5},{"s":"bar","t":"14:29:55","v":6.7},{"s":"bar","t":"14:31:05","v":5.4},{"s":"bar","t":"14:31:55","v":4.2},{"s":"bar","t":"14:33:05","v":4.6},{"s":"bar","t":"14:33:55","v":6.3},{"s":"bar","t":"14:35:05","v":4.6},{"s":"bar","t":"14:35:55","v":3.8},{"s":"bar","t":"14:37:25","v":4.2},{"s":"bar","t":"14:38:15","v":5.4},{"s":"bar","t":"14:39:45","v":3.3},{"s":"bar","t":"14:40:35","v":5},{"s":"bar","t":"14:41:25","v":3.8},{"s":"bar","t":"14:42:35","v":4.6},{"s":"bar","t":"14:43:25","v":3.3},{"s":"bar","t":"14:44:50","v":4.2},{"s":"bar","t":"14:46:00","v":3.8},{"s":"bar","t":"14:47:45","v":2.5},{"s":"bar","t":"14:49:45","v":2.9},{"s":"bar","t":"14:52:05","v":2.1},{"s":"bar","t":"14:54:05","v":2.5},{"s":"bar","t":"14:56:25","v":2.1},{"s":"bar","t":"14:59:50","v":2.1},{"s":"bar","t":"15:02:10","v":1.7},{"s":"bar","t":"15:08:30","v":1.7},{"s":"bar","t":"15:11:25","v":2.1},{"s":"bar","t":"15:15:45","v":2.1},{"s":"bar","t":"15:17:10","v":3.3},{"s":"bar","t":"15:18:35","v":2.5},
{"s":"mk","t":"13:46:45","v":-1.7},{"s":"mk","t":"13:48:45","v":-1.7},{"s":"mk","t":"15:43:00","v":-1.7},
{"s":"box","t":"14:22:20","t2":"14:32:05","v":82.9,"v2":74.6},{"s":"box","t":"14:52:30","t2":"15:05:40","v":82.9,"v2":78.3},{"s":"box","t":"14:58:30","t2":"15:07:05","v":60,"v2":55},{"s":"box","t":"14:28:25","t2":"14:38:05","v":20.4,"v2":15},{"s":"box","t":"14:52:30","t2":"15:04:20","v":23.75,"v2":17.5},
{"s":"lab","t":"14:27:10","v":78.75,"label":"High skid and slip.\nSuff torque. Off"},{"s":"lab","t":"14:59:05","v":80.6,"label":"Started soft torque"},{"s":"lab","t":"15:02:50","v":57.5,"label":"Constant torque"},{"s":"lab","t":"14:33:15","v":17.7,"label":"Smaller torque"},{"s":"lab","t":"14:58:25","v":20.6,"label":"Low stick and slip"},
{"s":"call","t":"14:32:05","t2":"14:41:00","v":82.1,"v2":91.25},{"s":"call","t":"14:53:55","t2":"14:47:00","v":78.3,"v2":55.8},{"s":"call","t":"14:58:30","t2":"14:55:20","v":55.8,"v2":50.8},{"s":"call","t":"14:36:05","t2":"14:36:40","v":20.4,"v2":35},{"s":"call","t":"15:00:30","t2":"15:01:55","v":23.75,"v2":30},
{"s":"footL","t":"13:10:00","v":-11,"label":"From 11-Apr-2017 13:44:48"},{"s":"footR","t":"16:16:35","v":-11,"label":"To 11-Apr-2017 15:44:48"}
]},
"layer":[
{"transform":[{"filter":"datum.s==='stripe'"}],"mark":{"type":"rect","fill":"#fdfad6"},
 "encoding":{"y":{"field":"v","type":"quantitative","scale":{"domain":[0,150],"nice":false,"zero":false},"axis":null},"y2":{"field":"v2"}}},
{"transform":[{"filter":"datum.s==='band'"}],"mark":{"type":"rect","fill":"#a9cbee","stroke":"#4a6fd0","strokeWidth":1},
 "encoding":{"x":{"field":"t","type":"temporal","axis":null},"x2":{"field":"t2"}}},
{"transform":[{"filter":"datum.s==='band2'"}],"mark":{"type":"rect","fill":"#6c9fe0"},
 "encoding":{"x":{"field":"t","type":"temporal","axis":null},"x2":{"field":"t2"}}},
{"transform":[{"filter":"datum.s==='slip'"}],"mark":{"type":"rect","fillOpacity":0,"stroke":"#2a3fb0","strokeWidth":1.5},
 "encoding":{"x":{"field":"t","type":"temporal","axis":null},"x2":{"field":"t2"}}},
{"transform":[{"filter":"datum.s==='vline'"}],"mark":{"type":"rule","color":"#777","strokeWidth":1.2},
 "encoding":{"x":{"field":"t","type":"temporal","axis":null}}},
{"transform":[{"filter":"datum.s==='hdth'"}],"mark":{"type":"line","strokeWidth":1.2},
 "encoding":{"x":{"field":"t","type":"temporal","axis":null},"color":{"datum":"HDTH (8085.350)","type":"nominal"},
 "y":{"field":"v","type":"quantitative","scale":{"domain":[0,9500],"nice":false,"zero":false},
  "axis":{"orient":"left","offset":34,"values":[0,500,1000,1500,2000,2500,3000,3500,4000,4500,5000,5500,6000,6500,7000,7500,8000,8500,9000,9500],"format":"d","title":"HDTH (ft)","labelColor":"#9b82e0","tickColor":"#9b82e0","domainColor":"#c8b8f0","titleColor":"#9b82e0"}}}},
{"transform":[{"filter":"datum.s==='dept'"}],"mark":{"type":"line","strokeWidth":1},
 "encoding":{"x":{"field":"t","type":"temporal","axis":null},"color":{"datum":"DEPT (8085.200)","type":"nominal"},
 "y":{"field":"v","type":"quantitative","scale":{"domain":[7100,8400],"nice":false,"zero":false},
  "axis":{"orient":"left","offset":77,"values":[7100,7200,7300,7400,7500,7600,7700,7800,7900,8000,8100,8200,8300,8400],"format":"d","title":"DEPT (ft)","labelColor":"#555","tickColor":"#777","domainColor":"#aaa","titleColor":"#444"}}}},
{"transform":[{"filter":"datum.s==='bpos'"}],"mark":{"type":"line","strokeWidth":1},
 "encoding":{"x":{"field":"t","type":"temporal","axis":null},"color":{"datum":"BPOS (15.750)","type":"nominal"},
 "y":{"field":"v","type":"quantitative","scale":{"domain":[0,120],"nice":false,"zero":false},
  "axis":{"orient":"left","offset":59,"values":[0,10,20,30,40,50,60,70,80,90,100,110,120],"format":"d","title":"BPOS (ft)","labelColor":"#eea070","tickColor":"#eea070","domainColor":"#f5c9a8","titleColor":"#eea070"}}}},
{"transform":[{"filter":"datum.s==='etok'"}],"mark":{"type":"line","strokeWidth":1},
 "encoding":{"x":{"field":"t","type":"temporal","axis":null},"detail":{"field":"g"},"color":{"datum":"ETOK_INT (19.500)","type":"nominal"},
 "y":{"field":"v","type":"quantitative","scale":{"domain":[0,240],"nice":false,"zero":false},
  "axis":{"orient":"left","offset":97,"values":[0,20,40,60,80,100,120,140,160,180,200,220,240],"format":"d","title":"ETOK_INT (kft.lbf)","labelColor":"#ee7fa0","tickColor":"#ee7fa0","domainColor":"#f5b8ca","titleColor":"#ee7fa0"}}}},
{"transform":[{"filter":"datum.s==='swob'"}],"mark":{"type":"line","strokeWidth":1.2},
 "encoding":{"x":{"field":"t","type":"temporal","axis":null},"detail":{"field":"g"},"color":{"datum":"SWOB (11.400)","type":"nominal"},
 "y":{"field":"v","type":"quantitative","scale":{"domain":[0,50],"nice":false,"zero":false},
  "axis":{"orient":"right","offset":22,"values":[0,5,10,15,20,25,30,35,40,45,50],"format":"d","title":"SWOB (klbf)","titleAngle":270,"labelColor":"#666","tickColor":"#888","domainColor":"#aaa","titleColor":"#666"}}}},
{"transform":[{"filter":"datum.s==='trq'"}],"mark":{"type":"line","strokeWidth":1},
 "encoding":{"x":{"field":"t","type":"temporal","axis":null},"color":{"datum":"STOR (6.400)","type":"nominal"},
 "y":{"field":"v","type":"quantitative","scale":{"domain":[0,20],"nice":false,"zero":false},
  "axis":{"orient":"left","offset":19,"values":[0,1,2,3,4,5,6,7,8,9,10,11,12,13,14,15,16,17,18,19,20],"format":"d","title":"STOR (kft.lbf)","labelColor":"#4a7fe0","tickColor":"#4a7fe0","domainColor":"#9ab8f0","titleColor":"#4a7fe0"}}}},
{"transform":[{"filter":"datum.s==='rops'"}],"mark":{"type":"line","strokeWidth":1.2,"strokeDash":[3,2]},
 "encoding":{"x":{"field":"t","type":"temporal","axis":null},"color":{"datum":"ROPS (60.920)","type":"nominal"},
 "y":{"field":"v","type":"quantitative","scale":{"domain":[0,120],"nice":false,"zero":false},
  "axis":{"orient":"right","offset":97,"values":[0,10,20,30,40,50,60,70,80,90,100,110,120],"format":"d","title":"ROPS (m/h)","titleAngle":270,"labelColor":"#e04a60","tickColor":"#e04a60","domainColor":"#f0a0aa","titleColor":"#e04a60"}}}},
{"transform":[{"filter":"datum.s==='sppa'"}],"mark":{"type":"line","strokeWidth":2.2},
 "encoding":{"x":{"field":"t","type":"temporal","axis":null},
 "color":{"datum":"SPPA (2525.160)","type":"nominal","scale":{"domain":["SPPA (2525.160)","SWOB (11.400)","HKLD (236.310)","RLIM (270.310)","ECD_MASK_INT (9.875)","RPM (125.000)","STOR (6.400)","DEPT (8085.200)","BPOS (15.750)","HDTH (8085.350)","ROPS (60.920)","ETOK_INT (19.500)"],"range":["#1e8c1e","#8a8a8a","#111111","#9bcf7a","#555555","#2424d0","#3d8fe0","#9c8f72","#f0a888","#a58be8","#e03a3a","#f2a0b8"]},
  "legend":{"orient":"top-right","offset":7,"title":null,"fillColor":"white","strokeColor":"#999","padding":3,"labelFontSize":4.6,"symbolType":"stroke","symbolSize":64,"symbolStrokeWidth":1.5,"rowPadding":1.6,"labelOffset":3,"labelColor":"#333"}},
 "y":{"field":"v","type":"quantitative","scale":{"domain":[0,4000],"nice":false,"zero":false},
  "axis":{"orient":"right","offset":0,"values":[0,200,400,600,800,1000,1200,1400,1600,1800,2000,2200,2400,2600,2800,3000,3200,3400,3600,3800,4000],"format":"d","title":"SPPA (psi)","titleAngle":270,"labelColor":"#3a9a3a","tickColor":"#3a9a3a","domainColor":"#8ccc8c","titleColor":"#3a9a3a"}}}},
{"transform":[{"filter":"datum.s==='hkld'"}],"mark":{"type":"line","strokeWidth":2},
 "encoding":{"x":{"field":"t","type":"temporal","axis":null},"color":{"datum":"HKLD (236.310)","type":"nominal"},
 "y":{"field":"v","type":"quantitative","scale":{"domain":[0,300],"nice":false,"zero":false},
  "axis":{"orient":"right","offset":38,"values":[0,20,40,60,80,100,120,140,160,180,200,220,240,260,280,300],"format":"d","title":"HKLD (klbf)","titleAngle":270,"labelColor":"#333","tickColor":"#555","domainColor":"#999","titleColor":"#222"}}}},
{"transform":[{"filter":"datum.s==='rpm'"}],"mark":{"type":"line","strokeWidth":1.6},
 "encoding":{"x":{"field":"t","type":"temporal","scale":{"domain":[{"year":1900,"month":1,"date":1,"hours":13,"minutes":45},{"year":1900,"month":1,"date":1,"hours":15,"minutes":45}]},
   "axis":{"title":"Time","format":"%H:%M","tickCount":{"interval":"minute","step":5},"labelOverlap":false,"labelFontSize":5.5,"labelColor":"#444","tickColor":"#999","domainColor":"#999","titleFontSize":6,"titleColor":"#333","labelPadding":7,"titlePadding":7,"tickSize":3,"labelAngle":0}},
 "color":{"datum":"RPM (125.000)","type":"nominal"},
 "y":{"field":"v","type":"quantitative","scale":{"domain":[0,150],"nice":false,"zero":false},
  "axis":{"orient":"left","offset":0,"values":[0,10,20,30,40,50,60,70,80,90,100,110,120,130,140,150],"format":"d","title":"RPM (rpm)","labelColor":"#2a2ab8","tickColor":"#2a2ab8","domainColor":"#6a6ad8","titleColor":"#2a2ab8"}}}},
{"transform":[{"filter":"datum.s==='rlim'"}],"mark":{"type":"point","opacity":0},
 "encoding":{"x":{"field":"t","type":"temporal","axis":null},
 "y":{"field":"v","type":"quantitative","scale":{"domain":[0,360],"nice":false,"zero":false},
  "axis":{"orient":"right","offset":57,"values":[0,20,40,60,80,100,120,140,160,180,200,220,240,260,280,300,320,340,360],"format":"d","title":"RLIM (klbf)","titleAngle":270,"labelColor":"#5aaa4a","tickColor":"#5aaa4a","domainColor":"#a8d8a0","titleColor":"#5aaa4a"}}}},
{"transform":[{"filter":"datum.s==='ecd'"}],"mark":{"type":"point","opacity":0},
 "encoding":{"x":{"field":"t","type":"temporal","axis":null},
 "y":{"field":"v","type":"quantitative","scale":{"domain":[8,12],"nice":false,"zero":false},
  "axis":{"orient":"right","offset":77,"values":[8,8.2,8.4,8.6,8.8,9,9.2,9.4,9.6,9.8,10,10.2,10.4,10.6,10.8,11,11.2,11.4,11.6,11.8,12],"format":"~g","title":"ECD_MASK_INT (ppg)","titleAngle":270,"labelColor":"#333","tickColor":"#555","domainColor":"#999","titleColor":"#222"}}}},
{"transform":[{"filter":"datum.s==='bar'"}],"mark":{"type":"rule","color":"#333","strokeWidth":1.1},
 "encoding":{"x":{"field":"t","type":"temporal","axis":null},
 "y":{"field":"v","type":"quantitative","scale":{"domain":[0,150],"nice":false,"zero":false},"axis":null},"y2":{"datum":0}}},
{"transform":[{"filter":"datum.s==='mk'"}],"mark":{"type":"point","shape":"triangle-down","filled":true,"color":"#111","size":10,"opacity":1},
 "encoding":{"x":{"field":"t","type":"temporal","axis":null},
 "y":{"field":"v","type":"quantitative","scale":{"domain":[0,150],"nice":false,"zero":false},"axis":null}}},
{"transform":[{"filter":"datum.s==='call'"}],"mark":{"type":"rule","color":"#999","strokeWidth":0.8},
 "encoding":{"x":{"field":"t","type":"temporal","axis":null},"x2":{"field":"t2"},
 "y":{"field":"v","type":"quantitative","scale":{"domain":[0,150],"nice":false,"zero":false},"axis":null},"y2":{"field":"v2"}}},
{"transform":[{"filter":"datum.s==='box'"}],"mark":{"type":"rect","fill":"white","stroke":"#999","strokeWidth":0.8,"cornerRadius":1.5},
 "encoding":{"x":{"field":"t","type":"temporal","axis":null},"x2":{"field":"t2"},
 "y":{"field":"v","type":"quantitative","scale":{"domain":[0,150],"nice":false,"zero":false},"axis":null},"y2":{"field":"v2"}}},
{"transform":[{"filter":"datum.s==='lab'"}],"mark":{"type":"text","fontSize":4.8,"color":"#333","lineBreak":"\n","align":"center","baseline":"middle"},
 "encoding":{"x":{"field":"t","type":"temporal","axis":null},
 "y":{"field":"v","type":"quantitative","scale":{"domain":[0,150],"nice":false,"zero":false},"axis":null},"text":{"field":"label"}}},
{"transform":[{"filter":"datum.s==='footL'"}],"mark":{"type":"text","fontSize":5,"color":"#444","align":"left","baseline":"middle"},
 "encoding":{"x":{"field":"t","type":"temporal","axis":null},
 "y":{"field":"v","type":"quantitative","scale":{"domain":[0,150],"nice":false,"zero":false},"axis":null},"text":{"field":"label"}}},
{"transform":[{"filter":"datum.s==='footR'"}],"mark":{"type":"text","fontSize":5,"color":"#444","align":"right","baseline":"middle"},
 "encoding":{"x":{"field":"t","type":"temporal","axis":null},
 "y":{"field":"v","type":"quantitative","scale":{"domain":[0,150],"nice":false,"zero":false},"axis":null},"text":{"field":"label"}}}
],
"resolve":{"scale":{"y":"independent"},"axis":{"y":"independent"}}
}
